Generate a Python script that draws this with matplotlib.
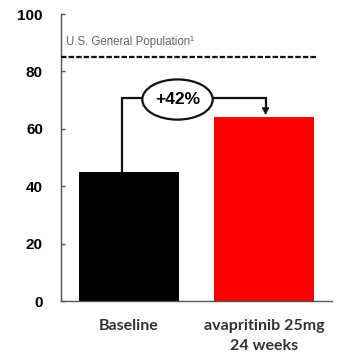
import matplotlib
matplotlib.use("Agg")
import matplotlib.pyplot as plt
from matplotlib.patches import Ellipse

# Quality-of-life score at baseline and after 24 weeks of treatment
categories = ["Baseline", "avapritinib 25mg\n24 weeks"]
scores = [45, 64]
bar_colors = ["#000000", "#ff0000"]
population_norm = 85
change_label = "+42%"
norm_label = "U.S. General Population\u00b9"
y_ticks = [0, 20, 40, 60, 80, 100]

fig = plt.figure(figsize=(3.37, 3.62), dpi=100)
ax = fig.add_axes([0.181, 0.1685, 0.804, 0.7928])

x = list(range(len(categories)))
ax.bar(x, scores, width=0.74, color=bar_colors, zorder=2)

ax.set_xlim(-0.5, 1.5)
ax.set_ylim(0, 100)
ax.set_yticks(y_ticks)
ax.set_yticklabels([str(t) for t in y_ticks], fontfamily="Liberation Sans",
                   fontweight="bold", fontsize=11)
ax.tick_params(axis="y", direction="in", length=3, width=1, color="#555555", pad=13)
ax.set_xticks(x)
ax.set_xticklabels(categories, fontfamily="Lato", fontweight="bold",
                   fontsize=11.5, color="#333333", linespacing=1.5)
ax.tick_params(axis="x", length=0, pad=13)

for side in ("top", "right"):
    ax.spines[side].set_visible(False)
for side in ("left", "bottom"):
    ax.spines[side].set_color("#555555")
    ax.spines[side].set_linewidth(1)

# Reference line for the general population
ax.axhline(population_norm, xmin=0, xmax=0.94, color="#111111", lw=1.6,
           ls=(0, (2.5, 0.9)), zorder=3)
ax.text(-0.46, population_norm + 3.2, norm_label, fontfamily="Liberation Sans",
        fontsize=8.3, color="#666666", va="bottom", ha="left")

# Bracket showing the change from baseline
y_br = 70.7
x_left = -0.05
x_right = 1.01
ell_cx, ell_w, ell_h = 0.36, 0.52, 14
ax.plot([x_left, x_left, ell_cx - ell_w / 2], [scores[0], y_br, y_br],
        color="#111111", lw=1.6, solid_joinstyle="miter", zorder=3)
ax.plot([ell_cx + ell_w / 2, x_right, x_right], [y_br, y_br, scores[1] + 2.2],
        color="#111111", lw=1.6, solid_joinstyle="miter", zorder=3)
ax.annotate("", xy=(x_right, scores[1]), xytext=(x_right, scores[1] + 2.5),
            arrowprops=dict(arrowstyle="-|>,head_length=0.35,head_width=0.2",
                            color="#111111", lw=1.2), zorder=4)
ax.add_patch(Ellipse((ell_cx, y_br - 0.5), ell_w, ell_h, facecolor="white",
                     edgecolor="#111111", lw=1.6, zorder=4))
ax.text(ell_cx, y_br - 0.5, change_label, fontfamily="Liberation Sans",
        fontweight="bold", fontsize=12.5, ha="center", va="center", zorder=5)

fig.savefig("out.png", dpi=100)
